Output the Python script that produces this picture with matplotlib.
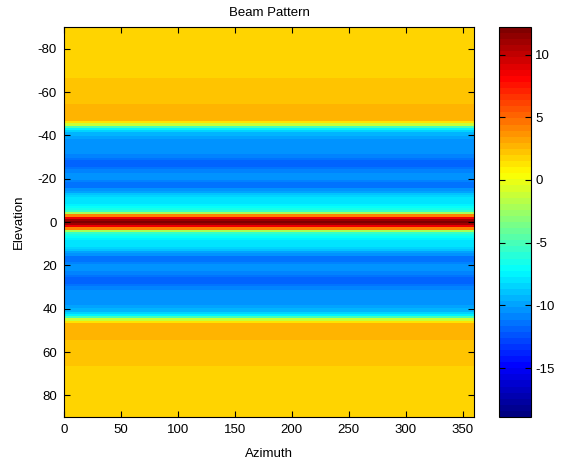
import numpy as np
import matplotlib
matplotlib.use("Agg")
import matplotlib.pyplot as plt
from matplotlib.colors import LinearSegmentedColormap

plt.rcParams['font.family'] = ['Liberation Sans', 'DejaVu Sans']
plt.rcParams['axes.unicode_minus'] = False

# Elevation profile (dB) for elevation 0..90 deg, 1-deg steps (pattern is symmetric)
profile_pos = [
    12.0, 11.0, 8.5, 4.0, -2.0, -5.5, -6.5, -7.0, -7.5, -7.8,     # 0-9
    -8.0, -8.2, -8.5, -9.0, -9.8, -10.6, -11.2, -11.5, -11.3, -10.8,  # 10-19
    -10.5, -10.4, -10.5, -10.7, -11.0, -11.4, -11.7, -11.8, -11.7, -11.4,  # 20-29
    -11.0, -10.7, -10.5, -10.4, -10.4, -10.5, -10.6, -10.5, -10.3, -10.0,  # 30-39
    -9.6, -9.2, -8.6, -7.5, -5.0, -1.0, 1.5, 2.5, 2.6, 2.6,      # 40-49
    2.6, 2.6, 2.6, 2.6, 2.6, 2.1, 2.1, 2.1, 2.1, 2.1,            # 50-59
    2.1, 2.1, 2.1, 2.1, 2.1, 2.1, 2.1, 1.7, 1.7, 1.7,            # 60-69
    1.7, 1.7, 1.7, 1.7, 1.7, 1.7, 1.7, 1.7, 1.7, 1.7,            # 70-79
    1.7, 1.7, 1.7, 1.7, 1.7, 1.7, 1.7, 1.7, 1.7, 1.7,            # 80-89
    1.7,                                                          # 90
]
elevation = np.arange(-90, 91)
profile = np.array(profile_pos[:0:-1] + profile_pos)
azimuth = np.arange(0, 361)
color_limits = (-18.9, 12.2)

x_ticks = [0, 50, 100, 150, 200, 250, 300, 350]
y_ticks = [-80, -60, -40, -20, 0, 20, 40, 60, 80]
cbar_ticks = [-15, -10, -5, 0, 5, 10]

Z = np.repeat(profile[:, None], len(azimuth), axis=1)

# MATLAB-style jet colormap (64 levels)
matlab_jet = LinearSegmentedColormap('matlab_jet', {
    'red':   [(0, 0, 0), (3/8, 0, 0), (5/8, 1, 1), (7/8, 1, 1), (1, 0.5, 0.5)],
    'green': [(0, 0, 0), (1/8, 0, 0), (3/8, 1, 1), (5/8, 1, 1), (7/8, 0, 0), (1, 0, 0)],
    'blue':  [(0, 0.5, 0.5), (1/8, 1, 1), (3/8, 1, 1), (5/8, 0, 0), (1, 0, 0)],
}, N=64)

fig = plt.figure(figsize=(5.61, 4.62), dpi=100)
ax = fig.add_axes([64/561, 1-417/462, 410/561, 390/462])
cax = fig.add_axes([499/561, 1-417/462, 32/561, 390/462])

im = ax.imshow(Z, cmap=matlab_jet, vmin=color_limits[0], vmax=color_limits[1],
               aspect='auto', interpolation='nearest',
               extent=[azimuth[0], azimuth[-1], elevation[-1] + 0.5, elevation[0] - 0.5])
ax.set_xlim(0, 360)
ax.set_ylim(90, -90)
ax.set_xticks(x_ticks)
ax.set_yticks(y_ticks)
ax.tick_params(direction='in', length=4, width=0.8, labelsize=9.5,
               top=True, right=True, pad=5)
ax.set_xlabel('Azimuth', fontsize=9.5, labelpad=9)
ax.set_ylabel('Elevation', fontsize=9.5, labelpad=9)
ax.set_title('Beam Pattern', fontsize=9.5, pad=8)
for s in ax.spines.values():
    s.set_linewidth(0.8)

cb = fig.colorbar(im, cax=cax)
cb.set_ticks(cbar_ticks)
cax.tick_params(direction='in', length=4, width=0.8, labelsize=9.5, left=True, right=True, pad=3)
cb.outline.set_linewidth(0.8)

fig.savefig('out.png', dpi=100)
